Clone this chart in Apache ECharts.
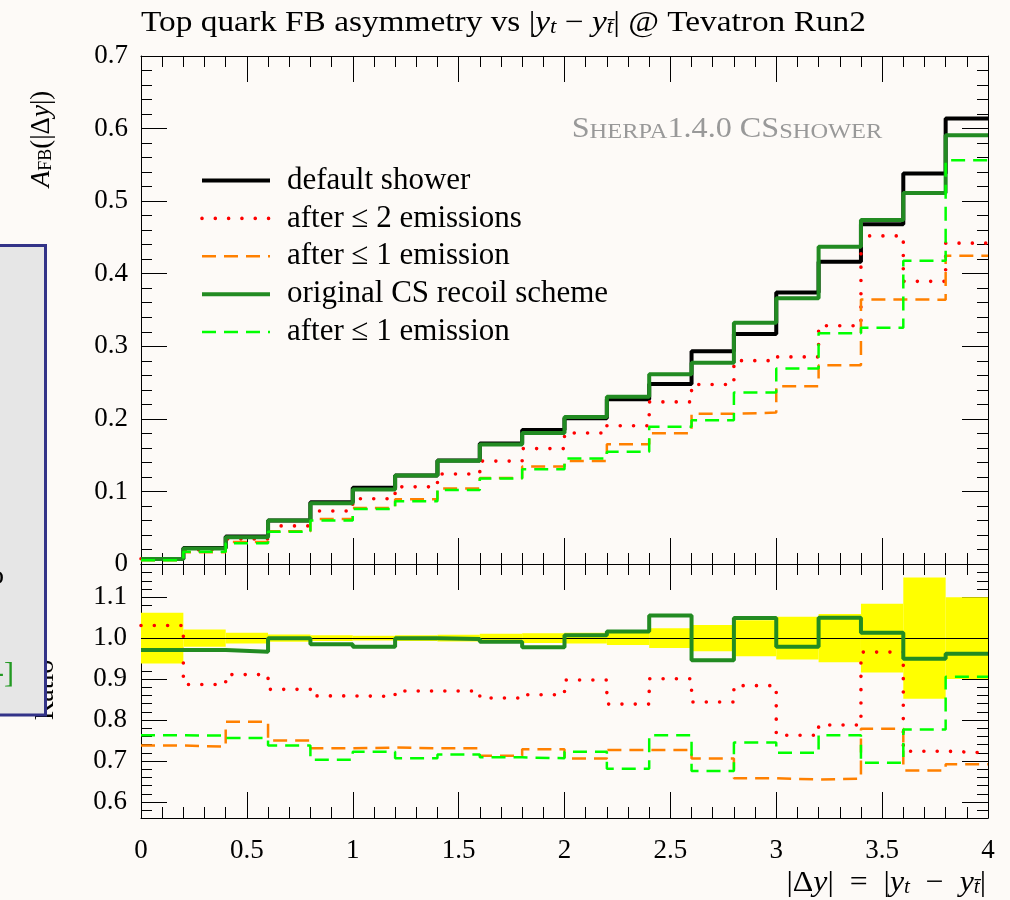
<!DOCTYPE html>
<html>
<head>
<meta charset="utf-8">
<title>Top quark FB asymmetry</title>
<script src="https://cdn.jsdelivr.net/npm/echarts@6/dist/echarts.min.js"></script>
<style>
  html, body { margin: 0; padding: 0; background: #fdfaf7; }
  #chart { width: 1010px; height: 900px; }
</style>
</head>
<body>
<div id="chart"></div>
<script>
// Bin edges in |Δy|
const bins = [0.0, 0.2, 0.4, 0.6, 0.8, 1.0, 1.2, 1.4, 1.6, 1.8, 2.0, 2.2, 2.4, 2.6, 2.8, 3.0, 3.2, 3.4, 3.6, 3.8, 4.0];

// A_FB per bin, upper panel
const defaultShower      = [0.007, 0.022, 0.038, 0.060, 0.085, 0.105, 0.122, 0.1425, 0.166, 0.1845, 0.201, 0.227, 0.248, 0.293, 0.317, 0.374, 0.4165, 0.468, 0.538, 0.614];
const afterTwoEmissions  = [0.0072, 0.0195, 0.0346, 0.0525, 0.073, 0.090, 0.1063, 0.1241, 0.1418, 0.159, 0.1805, 0.1905, 0.2234, 0.2473, 0.2802, 0.2854, 0.3282, 0.4521, 0.3895, 0.4421];
const afterOneEmission   = [0.0052, 0.0162, 0.0302, 0.045, 0.0621, 0.077, 0.0892, 0.1042, 0.1184, 0.1345, 0.1419, 0.165, 0.1803, 0.2069, 0.2086, 0.245, 0.2737, 0.3646, 0.3642, 0.4249];
const csRecoil           = [0.0068, 0.0214, 0.0367, 0.060, 0.0837, 0.1028, 0.122, 0.1422, 0.1645, 0.1804, 0.2024, 0.2306, 0.2616, 0.2772, 0.3325, 0.3661, 0.4373, 0.4741, 0.5111, 0.5907];
const csAfterOneEmission = [0.0053, 0.0168, 0.0287, 0.0443, 0.0598, 0.0759, 0.0863, 0.102, 0.1177, 0.1304, 0.1453, 0.1546, 0.1892, 0.1981, 0.2362, 0.2693, 0.3178, 0.3257, 0.418, 0.5563];

// Ratios to the default shower, lower panel
const ratioAfterTwo   = [1.031, 0.887, 0.911, 0.875, 0.859, 0.858, 0.871, 0.871, 0.854, 0.862, 0.898, 0.839, 0.901, 0.844, 0.884, 0.763, 0.788, 0.966, 0.724, 0.720];
const ratioAfterOne   = [0.738, 0.735, 0.796, 0.750, 0.731, 0.733, 0.731, 0.731, 0.713, 0.729, 0.706, 0.727, 0.727, 0.706, 0.658, 0.655, 0.657, 0.779, 0.677, 0.692];
const ratioCsRecoil   = [0.971, 0.971, 0.967, 1.000, 0.985, 0.979, 1.000, 0.998, 0.991, 0.978, 1.007, 1.016, 1.055, 0.946, 1.049, 0.979, 1.050, 1.013, 0.950, 0.962];
const ratioCsAfterOne = [0.763, 0.762, 0.756, 0.738, 0.703, 0.723, 0.707, 0.716, 0.709, 0.707, 0.723, 0.681, 0.763, 0.676, 0.745, 0.720, 0.763, 0.696, 0.777, 0.906];
// Statistical half-width of the reference band around 1
const ratioErr        = [0.062, 0.021, 0.013, 0.009, 0.007, 0.006, 0.007, 0.008, 0.011, 0.012, 0.013, 0.017, 0.024, 0.032, 0.044, 0.052, 0.059, 0.084, 0.148, 0.100];

// Tick values
const xMajor = [0, 0.5, 1, 1.5, 2, 2.5, 3, 3.5, 4];
const yMainMajor = [0, 0.1, 0.2, 0.3, 0.4, 0.5, 0.6, 0.7];
const yRatioMajor = [0.6, 0.7, 0.8, 0.9, 1.0, 1.1];

const names = ['default shower', 'after \u2264 2 emissions', 'after \u2264 1 emission', 'original CS recoil scheme', 'after \u2264 1 emission '];

const F = 'Liberation Serif';
const AX = '#000';

function steps(lo, hi, step) {
  const out = [];
  for (let k = 0; lo + k * step <= hi + 1e-9; k++) out.push(+(lo + k * step).toFixed(4));
  return out;
}
const xMinor = steps(0, 4, 0.1);
const yMainMinor = steps(0, 0.7, 0.02);
const yRatioMinor = steps(0.58, 1.18, 0.02);

// A framed side of a panel: long major ticks plus short minor ticks, both pointing inwards
function sideAxes(gridIndex, position, range, major, minor, labelFmt, labelMargin) {
  const common = {
    type: 'value', gridIndex, position, min: range[0], max: range[1],
    splitLine: { show: false }, axisPointer: { show: false }
  };
  const majorAxis = Object.assign({}, common, {
    axisLine: { show: true, onZero: false, lineStyle: { color: AX, width: 1 } },
    axisTick: { show: true, inside: true, length: 26, customValues: major, lineStyle: { color: AX, width: 1 } },
    axisLabel: labelFmt ? {
      show: true, customValues: major, formatter: labelFmt, margin: labelMargin,
      fontFamily: F, fontSize: 27, color: '#000'
    } : { show: false }
  });
  const minorAxis = Object.assign({}, common, {
    axisLine: { show: false, onZero: false },
    axisTick: { show: true, inside: true, length: 11, customValues: minor, lineStyle: { color: AX, width: 1 } },
    axisLabel: { show: false }
  });
  return [majorAxis, minorAxis];
}

const ratioRange = [0.561, 1.181];
const xRange = [0, 4];

const xAxes = [].concat(
  sideAxes(0, 'bottom', xRange, xMajor, xMinor, null),               // 0,1
  sideAxes(0, 'top', xRange, xMajor, xMinor, null),                  // 2,3
  sideAxes(1, 'bottom', xRange, xMajor, xMinor, v => String(v), 19), // 4,5
  sideAxes(1, 'top', xRange, xMajor, xMinor, null)                   // 6,7
);
const yAxes = [].concat(
  sideAxes(0, 'left', [0, 0.7], yMainMajor, yMainMinor, v => String(v), 13),       // 0,1
  sideAxes(0, 'right', [0, 0.7], yMainMajor, yMainMinor, null),                    // 2,3
  sideAxes(1, 'left', ratioRange, yRatioMajor, yRatioMinor, v => v.toFixed(1), 14), // 4,5
  sideAxes(1, 'right', ratioRange, yRatioMajor, yRatioMinor, null)                 // 6,7
);

// Histogram outline: one point per bin edge, stepping at each edge
function histo(values) {
  const pts = values.map((v, i) => [bins[i], v]);
  pts.push([bins[bins.length - 1], values[values.length - 1]]);
  return pts;
}

const styles = [
  { color: '#000000', width: 4, type: 'solid' },
  { color: '#ff0000', width: 3.6, type: [0.01, 13.3], cap: 'round' },
  { color: '#ff8000', width: 2.5, type: [14, 8] },
  { color: '#228b22', width: 4, type: 'solid' },
  { color: '#00ff00', width: 2.5, type: [14, 8] }
];

function stepSeries(name, values, style, xi, yi, z) {
  return {
    type: 'line', name, step: 'end', data: histo(values),
    xAxisIndex: xi, yAxisIndex: yi, symbol: 'none', showSymbol: false,
    lineStyle: Object.assign({}, style), itemStyle: { color: style.color },
    silent: true, clip: true, z
  };
}

const mainValues = [defaultShower, afterTwoEmissions, afterOneEmission, csRecoil, csAfterOneEmission];
const series = mainValues.map((vals, k) => stepSeries(names[k], vals, styles[k], 0, 0, 3 + k));

series.push({
  type: 'custom', name: 'stat band', xAxisIndex: 4, yAxisIndex: 4, z: 1, silent: true, clip: true,
  data: ratioErr.map((e, i) => [bins[i], bins[i + 1], 1 - e, 1 + e]),
  encode: { x: [0, 1], y: [2, 3] },
  renderItem(params, api) {
    const p0 = api.coord([api.value(0), api.value(3)]);
    const p1 = api.coord([api.value(1), api.value(2)]);
    return {
      type: 'rect',
      shape: { x: p0[0], y: p0[1], width: p1[0] - p0[0], height: p1[1] - p0[1] },
      style: { fill: '#ffff00' }
    };
  },
  markLine: {
    silent: true, symbol: 'none', animation: false,
    lineStyle: { color: '#000', width: 1, type: 'solid' },
    label: { show: false },
    data: [{ yAxis: 1 }]
  }
});

const ratioValues = [ratioAfterTwo, ratioAfterOne, ratioCsRecoil, ratioCsAfterOne];
ratioValues.forEach((vals, k) => series.push(stepSeries(names[k + 1], vals, styles[k + 1], 4, 4, 4 + k)));

const mathRich = (size) => ({
  n: { fontFamily: F, fontSize: size, fill: '#000', lineHeight: size + 4, verticalAlign: 'bottom' },
  i: { fontFamily: F, fontSize: size, fontStyle: 'italic', fill: '#000', lineHeight: size + 4, verticalAlign: 'bottom' },
  s: { fontFamily: F, fontSize: Math.round(size * 0.68), fontStyle: 'italic', fill: '#000', lineHeight: Math.round(size * 0.6), verticalAlign: 'bottom' },
  r: { fontFamily: F, fontSize: Math.round(size * 0.68), fill: '#000', lineHeight: Math.round(size * 0.6), verticalAlign: 'bottom' }
});

const graphics = [
  {
    type: 'text', x: 141, y: 5, scaleX: 1.15, z: 10,
    style: {
      text: '{n|Top quark FB asymmetry vs |}{i|y}{s|t}{n| \u2212 }{i|y}{s|t\u0304}{n|| @ Tevatron Run2}',
      rich: mathRich(29)
    }
  },
  {
    type: 'text', x: 986, y: 864, scaleX: 1.06, z: 10,
    style: {
      text: '{n||\u0394}{i|y}{n||\u2002=\u2002|}{i|y}{s|t}{n|\u2002\u2212\u2002}{i|y}{s|t\u0304}{n||}',
      rich: mathRich(30), align: 'right'
    }
  },
  {
    type: 'text', x: 40, y: 139, rotation: Math.PI / 2, z: 10,
    style: {
      text: '{i|A}{r|FB}{n|(|\u0394}{i|y}{n||)}',
      rich: mathRich(27), align: 'center', verticalAlign: 'middle'
    }
  },
  {
    type: 'text', x: 727, y: 129, scaleX: 1.11, z: 10,
    style: {
      text: '{b|S}{c|HERPA}{b|1.4.0 CS}{c|SHOWER}',
      align: 'center', verticalAlign: 'middle',
      rich: {
        b: { fontFamily: F, fontSize: 29, fill: '#999999', lineHeight: 29, verticalAlign: 'bottom' },
        c: { fontFamily: F, fontSize: 22, fill: '#999999', lineHeight: 25, verticalAlign: 'bottom' }
      }
    }
  },
  {
    type: 'text', x: 46, y: 690, rotation: Math.PI / 2, z: 1,
    style: { text: 'Ratio', fontFamily: F, fontSize: 28, fill: '#000', align: 'center', verticalAlign: 'middle' }
  },
  {
    type: 'rect', z: 5,
    shape: { x: -4, y: 245.5, width: 49.5, height: 469.5 },
    style: { fill: '#e6e6e6', stroke: '#333388', lineWidth: 3 }
  },
  {
    type: 'text', x: 4, y: 577, z: 6,
    style: { text: 'o', fontFamily: F, fontSize: 28, fill: '#000', align: 'right', verticalAlign: 'middle' }
  },
  {
    type: 'text', x: 14, y: 674, z: 6,
    style: { text: '-]', fontFamily: F, fontSize: 30, fill: '#229922', align: 'right', verticalAlign: 'middle' }
  }
];

const chart = echarts.init(document.getElementById('chart'), null, { renderer: 'canvas' });
chart.setOption({
  animation: false,
  backgroundColor: '#fdfaf7',
  grid: [
    { left: 141, top: 56, width: 847, height: 508 },
    { left: 141, top: 564, width: 847, height: 254 }
  ],
  xAxis: xAxes,
  yAxis: yAxes,
  legend: {
    orient: 'vertical', left: 200, top: 165, padding: 0, itemGap: 6.9,
    itemWidth: 68, itemHeight: 14, selectedMode: false,
    lineStyle: { width: 'inherit' },
    itemStyle: { opacity: 0 },
    textStyle: { fontFamily: F, fontSize: 31, color: '#000', lineHeight: 30, padding: [0, 0, 0, 12] },
    data: names
  },
  series,
  graphic: graphics
});
</script>
</body>
</html>
